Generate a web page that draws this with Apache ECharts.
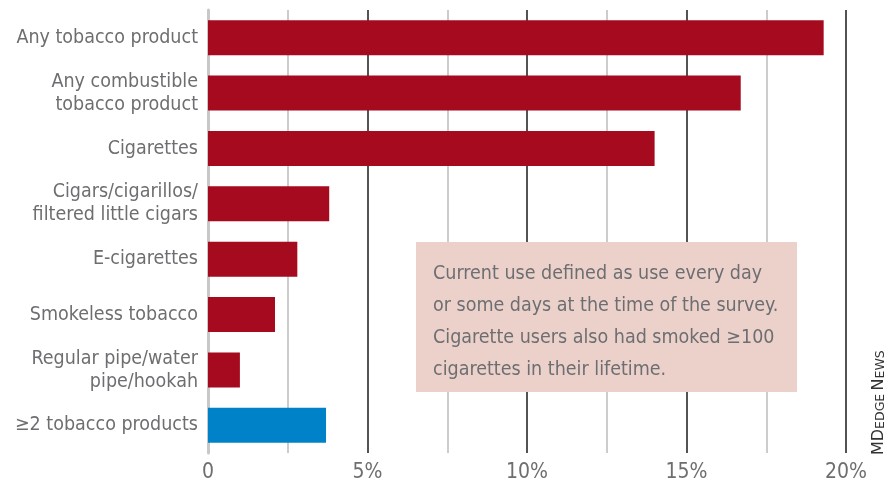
<!DOCTYPE html>
<html><head><meta charset="utf-8">
<script src="https://cdn.jsdelivr.net/npm/echarts@6/dist/echarts.min.js"></script>
<style>html,body{margin:0;padding:0;background:#fff}#c{width:890px;height:484px}</style>
</head><body><div id="c"></div>
<script>
const categories = ["Any tobacco product","Any combustible\ntobacco product","Cigarettes","Cigars/cigarillos/\nfiltered little cigars","E-cigarettes","Smokeless tobacco","Regular pipe/water\npipe/hookah","≥2 tobacco products"];
const values = [19.3, 16.7, 14.0, 3.8, 2.8, 2.1, 1.0, 3.7];
const barColors = ["#a50a1e","#a50a1e","#a50a1e","#a50a1e","#a50a1e","#a50a1e","#a50a1e","#0082c8"];
const xTicks = [0, 5, 10, 15, 20];
const noteLines = ["Current use defined as use every day","or some days at the time of the survey.","Cigarette users also had smoked ≥100","cigarettes in their lifetime."];

const FONT = "'Liberation Sans Narrow','DejaVu Sans Condensed','Roboto Condensed',sans-serif";
const chart = echarts.init(document.getElementById('c'));
chart.setOption({
  animation:false,
  grid:{left:208,right:44,top:10,bottom:31,containLabel:false},
  xAxis:{type:'value',min:0,max:20,interval:5,
    axisLine:{show:false},axisTick:{show:false},
    axisLabel:{color:'#6d6e71',fontFamily:FONT,fontSize:21,fontWeight:500,margin:9,
      formatter:v=>xTicks.includes(v)?(v===0?'0':v+'%'):''},
    splitLine:{show:true,showMinLine:false,lineStyle:{color:'#1a1a1a',width:1.5}},
    minorTick:{show:false,splitNumber:2},
    minorSplitLine:{show:true,lineStyle:{color:'#cccccc',width:2}}
  },
  yAxis:{type:'category',data:categories,inverse:true,
    axisLine:{show:true,lineStyle:{color:'#c8c8c8',width:3}},
    axisTick:{show:false},
    axisLabel:{color:'#6d6e71',fontFamily:FONT,fontSize:19.5,fontWeight:500,lineHeight:23,margin:10,align:'right'}
  },
  series:[{type:'bar',data:values.map((v,i)=>({value:v,itemStyle:{color:barColors[i]}})),
    barCategoryGap:'37%',z:3}],
  graphic:[
    {type:'rect',left:416,top:242,shape:{width:381,height:150},style:{fill:'#ecd1cb'},z:10},
    {type:'text',left:433,top:258,z:11,style:{text:noteLines.join('\n'),fill:'#6d6e71',font:"500 19.5px "+FONT,lineHeight:32}},
    {type:'text',x:871,y:455,rotation:Math.PI/2,z:11,style:{
      text:'{b|M}{b|D}{s|EDGE} {b|N}{s|EWS}',fill:'#333',verticalAlign:'top',
      rich:{b:{fontSize:16,fontFamily:'DejaVu Sans',fill:'#333',verticalAlign:'bottom'},s:{fontSize:12.5,fontFamily:'DejaVu Sans',fill:'#333',verticalAlign:'bottom'}}}}
  ]
});
</script></body></html>
